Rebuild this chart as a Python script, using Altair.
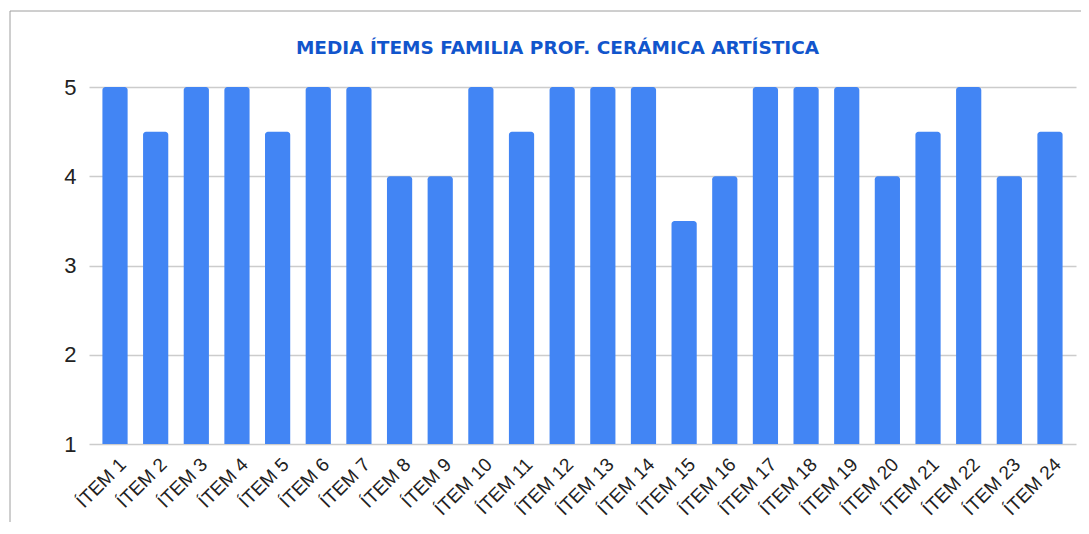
import altair as alt
import pandas as pd

items = [f"ÍTEM {i}" for i in range(1, 25)]
values = [5, 4.5, 5, 5, 4.5, 5, 5, 4, 4, 5, 4.5, 5, 5, 5, 3.5, 4, 5, 5, 5, 4, 4.5, 5, 4, 4.5]
y_ticks = [1, 2, 3, 4, 5]
title_text = "MEDIA ÍTEMS FAMILIA PROF. CERÁMICA ARTÍSTICA"

df = pd.DataFrame({"item": items, "value": values})

bars = alt.Chart(df).mark_bar(
    color="#4285F4", cornerRadiusTopLeft=3, cornerRadiusTopRight=3
).encode(
    x=alt.X("item:N", sort=items, title=None,
            scale=alt.Scale(paddingInner=0.38, paddingOuter=0.33),
            axis=alt.Axis(labelAngle=-45, labelAlign="right", labelBaseline="middle",
                          labelFont="Liberation Sans", labelFontSize=19, labelColor="#222222",
                          labelPadding=17, labelOffset=8, ticks=False, domain=False, grid=False)),
    y=alt.Y("value:Q", title=None,
            scale=alt.Scale(domain=[1, 5], zero=False, nice=False),
            axis=alt.Axis(values=y_ticks, format="d", labelFont="Liberation Sans",
                          labelFontSize=22, labelColor="#222222", labelPadding=13,
                          ticks=False, domain=False, gridColor="#cccccc", gridWidth=1.5)),
    y2=alt.datum(1),
)

border = alt.Chart(pd.DataFrame({"a": [0]})).mark_rect(
    fill=None, stroke="#9e9e9e", strokeWidth=1
).encode(x=alt.value(-79), x2=alt.value(1100), y=alt.value(-76), y2=alt.value(600))

chart = alt.layer(border, bars).properties(
    width=987, height=357,
    padding={"left": 81, "top": 79, "right": 5, "bottom": 78},
    autosize=alt.AutoSizeParams(type="none"),
    title=alt.TitleParams(title_text, font="DejaVu Sans", fontSize=18.5, fontWeight="bold",
                          color="#1155CC", anchor="middle", dx=-25, offset=0, dy=47),
).configure_view(stroke=None)

chart.save("out.html", embed_options={"renderer": "svg", "actions": False})
